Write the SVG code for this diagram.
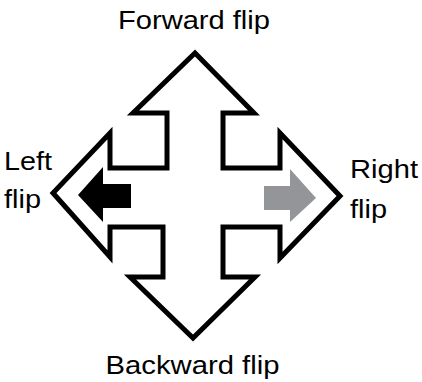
<svg xmlns="http://www.w3.org/2000/svg" width="422" height="382" viewBox="0 0 422 382">
  <style>
    .outline { fill: #ffffff; stroke: #000000; stroke-width: 5; stroke-linejoin: miter; stroke-miterlimit: 10; }
    .label { font-family: "Liberation Sans", Arial, Helvetica, sans-serif; font-size: 26px; fill: #000000; }
  </style>
  <rect x="0" y="0" width="422" height="382" fill="#ffffff"/>
  <g id="four-way-arrow">
    <path class="outline" d="M195,53 L254,113 L223,113 L223,168 L280,168 L280,133 L340,196 L280,258 L280,227 L223,227 L223,277 L255,277 L193,338 L130,277 L163,277 L163,227 L110,227 L110,257 L53,193 L110,133 L110,168 L167,168 L167,113 L133,113 Z"/>
  </g>
  <g id="left-indicator">
    <path d="M78,195 L103,167 L103,184 L131,184 L131,208 L103,208 L103,222 Z" fill="#000000"/>
  </g>
  <g id="right-indicator">
    <path d="M264,186 L290,186 L290,169 L316,198 L290,222 L290,210 L264,210 Z" fill="#939598"/>
  </g>
  <g id="label-forward">
    <text class="label" x="194" y="29" text-anchor="middle" textLength="152" lengthAdjust="spacingAndGlyphs">Forward flip</text>
  </g>
  <g id="label-backward">
    <text class="label" x="192.5" y="374" text-anchor="middle" textLength="174" lengthAdjust="spacingAndGlyphs">Backward flip</text>
  </g>
  <g id="label-left">
    <text class="label" x="4" y="170" textLength="48" lengthAdjust="spacingAndGlyphs">Left</text>
    <text class="label" x="4" y="208" textLength="37" lengthAdjust="spacingAndGlyphs">flip</text>
  </g>
  <g id="label-right">
    <text class="label" x="350" y="178" textLength="68" lengthAdjust="spacingAndGlyphs">Right</text>
    <text class="label" x="350" y="218" textLength="37" lengthAdjust="spacingAndGlyphs">flip</text>
  </g>
</svg>
